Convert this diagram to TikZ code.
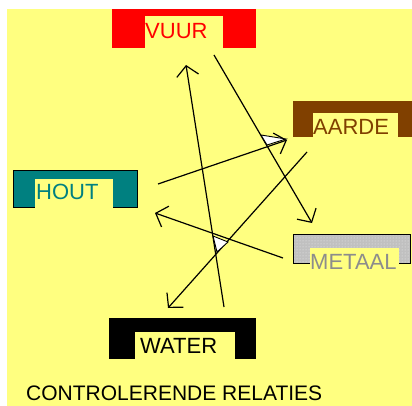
\documentclass[tikz,border=0pt]{standalone}
\usepackage{fontspec}
\setmainfont{Liberation Sans}
\usetikzlibrary{arrows.meta,patterns}
\definecolor{bg}{HTML}{FFFF80}
\definecolor{vuurrood}{HTML}{FF0000}
\definecolor{aardebruin}{HTML}{804000}
\definecolor{houtgroen}{HTML}{008080}
\definecolor{metaalgrijs}{HTML}{C0C0C0}
\definecolor{metaaltekst}{HTML}{8C8C8C}
\tikzset{
  kader/.style={draw=black, line width=0.9pt},
  gat/.style={fill=bg, draw=none},
  lab/.style={anchor=base west, inner sep=0pt, font=\fontsize{22}{26}\selectfont},
  pijl/.style={draw=black, line width=1.2pt, -{Straight Barb[length=10pt,width=22pt]}},
  driehoek/.style={fill=white, draw=black, line width=0.9pt}
}
\begin{document}
\begin{tikzpicture}[x=1pt,y=-1pt]
  \useasboundingbox (0,0) rectangle (412,406);
  \fill[white] (0,0) rectangle (412,406);
  \fill[bg] (7,9) rectangle (412,406);

  % vuur
  \fill[vuurrood] (112,9) rectangle (256,48);
  \fill[gat] (145,16) rectangle (223,49);
  \node[lab, text=vuurrood] (vuur) at (145,39) {VUUR};

  % aarde
  \fill[aardebruin] (293,101) rectangle (412,137);
  \fill[gat] (313,113) rectangle (398,138);
  \node[lab, text=aardebruin] (aarde) at (313,135) {AARDE};

  % hout
  \filldraw[fill=houtgroen, kader] (13,170) rectangle (137,207);
  \fill[gat] (35,179) rectangle (113,208);
  \node[lab, text=houtgroen] (hout) at (36,200) {HOUT};

  % metaal
  \fill[metaalgrijs] (293,234) rectangle (410,263);
  \fill[pattern=dots, pattern color=white!70!metaalgrijs] (293,234) rectangle (410,263);
  \draw[kader] (293,234) rectangle (410,263);
  \fill[gat] (310,248) rectangle (399,264);
  \node[lab, text=metaaltekst] (metaal) at (310,269) {METAAL};

  % water
  \fill[black] (109,318) rectangle (256,359);
  \fill[gat] (135,332) rectangle (235,360);
  \node[lab] (water) at (140,353) {WATER};

  % uiteinden van de pijlen
  \coordinate (vuur-uit) at (214,55);
  \coordinate (metaal-in) at (312,223);
  \coordinate (water-uit) at (224,307);
  \coordinate (vuur-in) at (186,65);
  \coordinate (aarde-uit) at (307,152);
  \coordinate (water-in) at (168,308);
  \coordinate (hout-uit) at (158,184);
  \coordinate (aarde-in) at (287,140);
  \coordinate (metaal-uit) at (283,258);
  \coordinate (hout-in) at (155,213);

  \draw[pijl] (vuur-uit) -- (metaal-in);
  \draw[pijl] (water-uit) -- (vuur-in);
  \draw[pijl] (aarde-uit) -- (water-in);
  \draw[pijl] (hout-uit) -- (aarde-in);
  \draw[pijl] (metaal-uit) -- (hout-in);

  \filldraw[driehoek] (261,135) -- (286,139) -- (267,145) -- cycle;
  \filldraw[driehoek] (213,236) -- (228,242) -- (217,252) -- cycle;

  \node[lab, font=\fontsize{21}{25}\selectfont, text depth=0pt] (titel) at (26,400) {CONTROLERENDE RELATIES};
\end{tikzpicture}
\end{document}
